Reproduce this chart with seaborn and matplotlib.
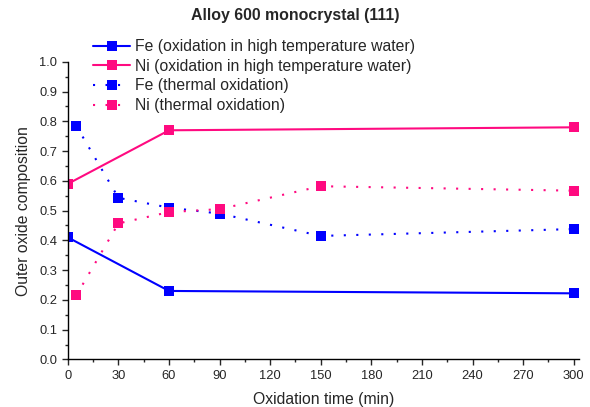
import matplotlib
matplotlib.use("Agg")
import matplotlib.pyplot as plt
import seaborn as sns
from matplotlib.ticker import MultipleLocator, FormatStrFormatter


# Oxidation in high temperature water
time_htw = [0, 60, 300]
fe_htw = [0.41, 0.23, 0.222]
ni_htw = [0.59, 0.77, 0.78]

# Thermal oxidation
time_th = [5, 30, 60, 90, 150, 300]
fe_th = [0.785, 0.543, 0.51, 0.49, 0.415, 0.438]
ni_th = [0.215, 0.457, 0.495, 0.505, 0.582, 0.567]

BLUE = "#0000FF"
PINK = "#FF0A80"

sns.set_style("ticks")
plt.rcParams["font.family"] = ["Liberation Sans", "DejaVu Sans"]

fig = plt.figure(figsize=(5.9, 4.07), dpi=100)
ax = fig.add_axes([0.115, 0.117, 0.866, 0.731])

solid = dict(linewidth=1.5, marker="s", markersize=6.5, markeredgewidth=0)
dotted = dict(linewidth=1.5, linestyle=(0, (1, 5)), marker="s", markersize=6.5,
              markeredgewidth=0)

sns.lineplot(x=time_htw, y=fe_htw, color=BLUE, ax=ax,
             label="Fe (oxidation in high temperature water)", **solid)
sns.lineplot(x=time_htw, y=ni_htw, color=PINK, ax=ax,
             label="Ni (oxidation in high temperature water)", **solid)
sns.lineplot(x=time_th, y=fe_th, color=BLUE, ax=ax,
             label="Fe (thermal oxidation)", **dotted)
sns.lineplot(x=time_th, y=ni_th, color=PINK, ax=ax,
             label="Ni (thermal oxidation)", **dotted)

ax.set_xlim(0, 303)
ax.set_ylim(0, 1.0)
ax.xaxis.set_major_locator(MultipleLocator(30))
ax.xaxis.set_minor_locator(MultipleLocator(15))
ax.yaxis.set_major_locator(MultipleLocator(0.1))
ax.yaxis.set_minor_locator(MultipleLocator(0.05))
ax.yaxis.set_major_formatter(FormatStrFormatter("%.1f"))
ax.tick_params(which="major", length=4, width=1, labelsize=9.3, direction="out")
ax.tick_params(which="minor", length=2.5, width=1, direction="out")
for side in ("left", "bottom"):
    ax.spines[side].set_linewidth(1)
    ax.spines[side].set_color("black")
sns.despine(ax=ax)

ax.set_xlabel("Oxidation time (min)", fontsize=11.3, labelpad=7)
ax.set_ylabel("Outer oxide composition", fontsize=11.3, labelpad=6)
fig.text(0.5, 0.961, "Alloy 600 monocrystal (111)", ha="center", va="center",
         fontsize=11.4, fontweight="bold")

handles, labels = ax.get_legend_handles_labels()
ax.get_legend().remove()
fig.legend(handles, labels, loc="upper left", bbox_to_anchor=(0.158, 0.904),
           frameon=False, fontsize=11.3, handlelength=2.36, handletextpad=0.32,
           labelspacing=0.3, borderpad=0, borderaxespad=0)

fig.savefig("out.png", dpi=100)
plt.close(fig)
